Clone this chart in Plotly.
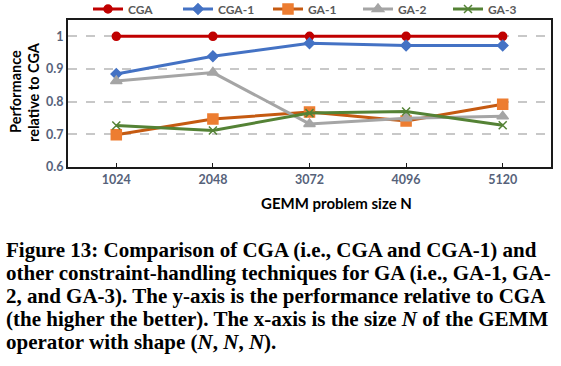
import plotly.graph_objects as go

sizes = ["1024", "2048", "3072", "4096", "5120"]
cga = [1.0, 1.0, 1.0, 1.0, 1.0]
cga1 = [0.885, 0.939, 0.979, 0.972, 0.972]
ga1 = [0.699, 0.747, 0.768, 0.741, 0.792]
ga2 = [0.863, 0.889, 0.732, 0.749, 0.755]
ga3 = [0.727, 0.712, 0.765, 0.770, 0.728]
ytick_vals = [0.6, 0.7, 0.8, 0.9, 1.0]
ytick_text = ["0.6", "0.7", "0.8", "0.9", "1"]

caption_lines = [
    "Figure 13: Comparison of CGA (i.e., CGA and CGA-1) and",
    "other constraint-handling techniques for GA (i.e., GA-1, GA-",
    "2, and GA-3). The y-axis is the performance relative to CGA",
    "(the higher the better). The x-axis is the size <i>N</i> of the GEMM",
    "operator with shape (<i>N</i>, <i>N</i>, <i>N</i>).",
]

series = [
    ("CGA", cga, "#C00000", "#C00000", "circle", 8),
    ("CGA-1", cga1, "#4472C4", "#4472C4", "diamond", 8),
    ("GA-1", ga1, "#C55A11", "#ED7D31", "square", 10),
    ("GA-2", ga2, "#A5A5A5", "#A5A5A5", "triangle-up", 10),
    ("GA-3", ga3, "#548235", "#548235", "x-thin", 8),
]

fig = go.Figure()
for name, vals, lc, mc, sym, ms in series:
    fig.add_trace(go.Scatter(
        x=sizes, y=vals, name=name, mode="lines+markers",
        line=dict(color=lc, width=3),
        marker=dict(color=mc, symbol=sym, size=ms,
                    line=dict(color=mc, width=1.5)),
    ))

W, H = 561, 366
L, R, T, B = 68, 10, 20, 199
pw, ph = W - L - R, H - T - B

def px(p):
    return (p - L) / pw

def py(p):
    return (H - B - p) / ph

tick_font = dict(family="Lato", size=12.5, color="#56627A", weight="bold")

fig.update_layout(
    width=W, height=H,
    margin=dict(l=L, r=R, t=T, b=B, autoexpand=False),
    paper_bgcolor="white", plot_bgcolor="white",
    showlegend=True,
    legend=dict(orientation="h", x=px(88), xanchor="left", y=py(9), yanchor="middle",
                font=dict(family="Lato", size=12, color="#595959", weight="bold"),
                itemwidth=30, entrywidth=45, bgcolor="rgba(0,0,0,0)"),
    xaxis=dict(type="category", range=[-0.5, 4.5], showgrid=False,
               showline=True, linecolor="#1a1a1a", linewidth=2, mirror=True,
               ticks="inside", ticklen=4, tickcolor="#1a1a1a",
               tickfont=tick_font, fixedrange=True),
    yaxis=dict(range=[0.6, 1.05], tickvals=ytick_vals, ticktext=ytick_text,
               showgrid=True, gridcolor="#C8C8C8", griddash="dash", gridwidth=1.5,
               showline=True, linecolor="#1a1a1a", linewidth=2, mirror=True,
               ticks="", tickfont=tick_font, zeroline=False, fixedrange=True),
)

ann = [
    dict(text="<b>Performance</b>", x=px(15), y=py(92), textangle=-90),
    dict(text="<b>relative to CGA</b>", x=px(33), y=py(92), textangle=-90),
]
for a in ann:
    fig.add_annotation(xref="paper", yref="paper", showarrow=False,
                       xanchor="center", yanchor="middle",
                       font=dict(family="Lato", size=14.5, color="#000000"), **a)

fig.add_annotation(xref="paper", yref="paper", showarrow=False,
                   text="<b>GEMM problem size N</b>", x=px(336), y=py(203),
                   xanchor="center", yanchor="middle",
                   font=dict(family="Lato", size=15, color="#000000"))

for i, line in enumerate(caption_lines):
    fig.add_annotation(xref="paper", yref="paper", showarrow=False,
                       text="<b>" + line + "</b>", x=px(4), y=py(250 + 23 * i),
                       xanchor="left", yanchor="middle", align="left",
                       font=dict(family="Liberation Serif", size=21, color="#000000"))

fig.write_html("out.html", config={"displayModeBar": False},
               post_script="document.body.style.margin='0';")
